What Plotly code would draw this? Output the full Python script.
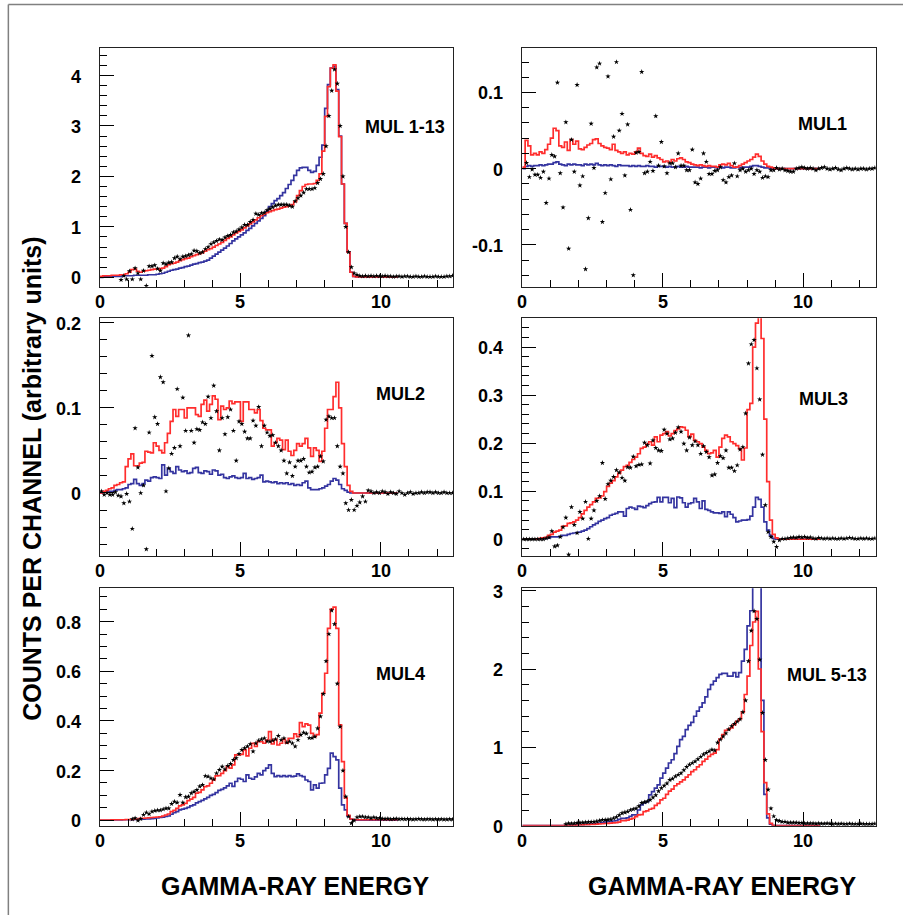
import numpy as np
import plotly.graph_objects as go

# ---------------- data (bin width 0.1 MeV) ----------------
BIN_W = 0.1

X_TICKS = [0, 5, 10]
X_TEXT = ["0", "5", "10"]
PANEL_NAMES = ["MUL 1-13", "MUL1", "MUL2", "MUL3", "MUL4", "MUL 5-13"]

# MUL 1-13
P1_RED = [0.02,0.03,0.03,0.03,0.04,0.04,0.04,0.05,0.05,
          0.07,0.10,0.15,0.16,0.12,0.10,0.12,0.13,0.14,0.15,0.16,
          0.16,0.17,0.18,0.21,0.25,0.27,0.28,0.30,0.33,0.35,
          0.37,0.38,0.41,0.43,0.45,0.47,0.49,0.52,0.55,0.57,
          0.60,0.63,0.66,0.69,0.73,0.77,0.80,0.84,0.88,0.91,
          0.94,0.98,1.02,1.06,1.10,1.14,1.18,1.22,1.25,1.28,
          1.30,1.32,1.34,1.35,1.37,1.39,1.40,1.42,1.44,1.50,
          1.62,1.72,1.80,1.84,1.85,1.85,1.86,1.92,2.05,2.50,
          3.19,3.78,4.15,4.21,3.69,2.79,1.85,1.07,0.50,0.10,
          0.02,0.01,0.01,0.01,0.01,0.01,0.01,0.01,0.01,0.01,0.01,0.01,0.01,0.01,0.01,0.01]
P1_BLUE = [0.0,0.01,0.01,0.01,0.02,0.02,0.02,0.02,0.03,0.03,
           0.03,0.03,0.04,0.04,0.04,0.04,0.04,0.05,0.05,0.05,
           0.06,0.07,0.08,0.10,0.12,0.14,0.15,0.16,0.18,0.19,
           0.21,0.22,0.24,0.26,0.27,0.29,0.30,0.32,0.34,0.38,
           0.42,0.46,0.50,0.54,0.58,0.62,0.67,0.72,0.76,0.80,
           0.84,0.88,0.93,0.97,1.02,1.07,1.12,1.17,1.22,1.30,
           1.40,1.46,1.52,1.56,1.62,1.68,1.76,1.84,1.92,2.02,
           2.12,2.17,2.18,2.18,2.12,2.08,2.10,2.22,2.38,2.62,
           3.35,3.82,4.15,4.18,3.72,2.80,1.85,1.07,0.50,0.10,
           0.02,0.01,0.01,0.01,0.01,0.01,0.01,0.01,0.01,0.01,0.01,0.01,0.01,0.01,0.01,0.01]
P1_DOTS = [None,None,None,None,None,None,None,
           -0.05,0.03,-0.04,0.12,-0.04,0.18,0.08,-0.04,0.13,-0.17,
           0.22,0.22,0.24,0.17,0.13,0.28,0.26,0.29,0.30,0.38,
           0.41,0.36,0.41,0.42,0.44,0.46,0.53,0.52,0.48,0.50,
           0.56,0.60,0.66,0.69,0.72,0.75,0.74,0.79,0.82,0.84,
           0.89,0.91,0.95,0.99,1.04,1.04,1.10,1.14,1.26,1.24,
           1.27,1.28,1.33,1.36,1.39,1.42,1.44,1.44,1.44,1.44,
           1.42,1.40,1.51,1.57,1.62,1.68,1.75,1.75,1.75,1.77,
           1.87,1.95,2.05,2.60,3.20,3.70,4.12,3.84,3.00,2.00,
           1.00,0.50,0.20,0.08,0.05,
           0.03,0.02,0.03,0.02,0.03,0.02,0.03,0.02,0.02,0.03,0.02,0.02,0.01,0.02,0.02,0.01,0.02,
           0.02,0.01,0.01,0.02,0.01,0.01,0.02,0.01,0.01,0.01,0.02,0.01,0.01,0.01,0.02,0.02,0.03]

# MUL1
P2_RED = [0.002,0.037,0.030,0.018,0.020,0.018,0.022,0.020,0.025,0.032,
          0.040,0.053,0.050,0.030,0.028,0.035,0.024,0.038,0.032,0.036,
          0.026,0.025,0.028,0.031,0.033,0.038,0.039,0.033,0.030,0.028,
          0.027,0.025,0.032,0.024,0.022,0.020,0.022,0.018,0.020,0.019,
          0.022,0.027,0.020,0.017,0.016,0.019,0.015,0.017,0.014,0.012,
          0.009,0.010,0.008,0.012,0.010,0.013,0.014,0.012,0.009,0.008,
          0.006,0.005,0.004,0.005,0.004,0.003,0.004,0.003,0.003,0.002,
          0.005,0.006,0.005,0.007,0.004,0.002,0.002,0.004,0.006,0.008,
          0.010,0.012,0.015,0.019,0.016,0.010,0.006,0.003,0.002,0.001,
          0,0,0,0,0,0,0,0,0,0,0,0,0,0,0,0]
P2_BLUE = [0.0,0.003,0.004,0.003,0.004,0.004,0.005,0.004,0.005,0.006,
           0.006,0.008,0.009,0.006,0.005,0.004,0.006,0.005,0.006,0.005,
           0.005,0.004,0.006,0.005,0.006,0.005,0.007,0.005,0.004,0.005,
           0.004,0.005,0.004,0.003,0.005,0.004,0.004,0.004,0.003,0.004,
           0.003,0.004,0.003,0.003,0.004,0.003,0.003,0.002,0.003,0.003,
           0.003,0.002,0.003,0.002,0.002,0.003,0.002,0.002,0.003,0.002,
           0.002,0.002,0.002,0.001,0.002,0.002,0.001,0.002,0.002,0.001,
           0.002,0.001,0.002,0.002,0.001,0.001,0.002,0.001,0.002,0.002,
           0.002,0.003,0.004,0.004,0.003,0.002,0.001,0.001,0.0,0.0,
           0,0,0,0,0,0,0,0,0,0,0,0,0,0,0,0]
P2_DOTS = [None,
           0.0075,-0.011,-0.001,-0.008,-0.008,-0.012,-0.004,-0.045,-0.013,0.018,
           0.016,0.113,-0.006,-0.051,0.061,-0.105,0.038,-0.004,0.110,-0.022,
           -0.010,-0.132,-0.065,0.059,0.001,0.133,0.138,-0.070,-0.032,0.121,
           -0.014,0.042,0.140,0.050,0.072,-0.009,0.058,-0.054,-0.140,0.021,
           0.022,0.127,-0.006,-0.004,0.009,-0.003,0.069,0.004,0.035,0.003,
           -0.006,0.007,0.007,0.002,0.020,0.004,0.004,-0.002,-0.002,0.025,
           -0.018,-0.020,-0.013,0.020,0.009,-0.007,-0.007,-0.003,-0.002,0.002,
           -0.015,-0.018,-0.011,-0.009,0.007,-0.010,-0.002,0.000,-0.004,-0.002,
           0.000,-0.007,-0.002,-0.004,-0.012,-0.010,-0.011,-0.002,-0.002,
           0.001,-0.001,0.0,-0.002,-0.003,-0.004,-0.004,0.0,0.001,0.002,0.001,0.0,0.001,0.0,
           -0.002,0.0,0.001,0.002,0.0,-0.001,0.0,0.001,-0.001,-0.002,0.0,0.001,0.0,-0.001,
           0.0,-0.001,0.0,0.0,-0.001,0.0,0.0,0.001]

# MUL2
P3_RED = [0.0,0.002,0.003,0.005,0.006,0.009,0.010,0.012,0.013,0.031,
          0.040,0.046,0.032,0.032,0.035,0.036,0.049,0.048,0.047,0.059,
          0.055,0.050,0.047,0.059,0.070,0.084,0.098,0.090,0.098,0.098,
          0.088,0.100,0.100,0.100,0.092,0.090,0.104,0.109,0.096,0.104,
          0.114,0.110,0.086,0.102,0.098,0.100,0.108,0.105,0.107,0.107,
          0.084,0.107,0.107,0.098,0.098,0.094,0.098,0.085,0.076,0.074,
          0.074,0.055,0.059,0.064,0.062,0.051,0.062,0.049,0.044,0.050,
          0.058,0.055,0.058,0.064,0.053,0.043,0.053,0.050,0.037,0.049,
          0.076,0.098,0.098,0.113,0.130,0.100,0.058,0.031,0.009,0.002,
          0,0,0,0,0,0,0,0,0,0,0,0,0,0,0,0]
P3_BLUE = [0.0,0.001,0.001,0.002,0.002,0.003,0.004,0.004,0.005,0.006,
           0.010,0.011,0.016,0.011,0.009,0.011,0.015,0.014,0.018,0.019,
           0.018,0.017,0.033,0.021,0.029,0.025,0.023,0.031,0.027,0.025,
           0.026,0.023,0.024,0.029,0.030,0.024,0.023,0.026,0.025,0.022,
           0.027,0.026,0.021,0.022,0.018,0.017,0.019,0.020,0.018,0.017,
           0.018,0.023,0.017,0.018,0.016,0.017,0.018,0.021,0.013,0.014,
           0.013,0.012,0.013,0.011,0.012,0.011,0.012,0.010,0.011,0.009,
           0.010,0.009,0.012,0.014,0.006,0.004,0.004,0.004,0.005,0.006,
           0.008,0.010,0.014,0.017,0.015,0.010,0.005,0.003,0.001,0.0,
           0,0,0,0,0,0,0,0,0,0,0,0,0,0,0,0]
P3_DOTS = [0.002,-0.002,0.000,-0.002,-0.002,0.001,-0.003,-0.004,-0.012,-0.001,
           -0.010,-0.042,0.076,0.030,0.000,0.009,-0.066,0.071,0.161,0.089,
           0.081,0.136,0.130,0.002,0.029,0.046,0.053,0.122,0.055,0.112,
           0.073,0.185,0.073,0.059,0.075,0.074,0.083,0.081,0.113,0.088,
           0.126,0.096,0.050,0.088,0.069,0.089,0.098,0.073,0.038,0.084,
           0.081,0.072,0.064,0.064,0.085,0.079,0.101,0.055,0.079,0.071,
           0.067,0.068,0.059,0.055,0.050,0.038,0.023,0.036,0.020,0.031,
           0.038,0.038,0.040,0.031,0.024,0.025,0.030,0.031,0.043,0.037,
           0.086,0.090,0.088,0.088,0.055,0.031,0.023,-0.012,-0.020,-0.008,
           -0.020,-0.015,-0.011,-0.004,-0.010,0.003,
           0.002,0.0,0.001,0.0,0.002,0.001,-0.001,0.001,0.0,-0.001,0.002,0.0,-0.002,0.0,0.001,
           -0.001,0.0,0.0,0.001,0.0,0.001,0.001,0.0,0.001,0.0,0.0,0.001,0.0,0.0,0.0]

# MUL3
P4_RED = [0.0,0.0,0.0,0.0,0.0,0.001,0.002,0.003,0.004,0.008,
          0.010,0.015,0.017,0.019,0.027,0.028,0.033,0.034,0.036,0.040,
          0.045,0.053,0.060,0.067,0.072,0.078,0.085,0.086,0.090,0.099,
          0.110,0.117,0.122,0.130,0.137,0.144,0.151,0.154,0.160,0.166,
          0.171,0.178,0.189,0.192,0.198,0.203,0.196,0.213,0.203,0.217,
          0.220,0.224,0.215,0.220,0.226,0.230,0.234,0.233,0.227,0.213,
          0.219,0.206,0.203,0.199,0.192,0.185,0.178,0.180,0.185,0.171,
          0.192,0.210,0.217,0.213,0.203,0.199,0.195,0.188,0.165,0.190,
          0.270,0.283,0.400,0.450,0.470,0.418,0.250,0.120,0.040,0.010,
          0.003,0,0,0,0,0,0,0,0,0,0,0,0,0,0,0]
P4_BLUE = [0,0,0,0,0,0,0.001,0.001,0.002,0.003,
           0.005,0.005,0.005,0.006,0.008,0.008,0.010,0.012,0.013,0.014,
           0.015,0.017,0.019,0.022,0.026,0.030,0.033,0.037,0.040,0.043,
           0.045,0.050,0.052,0.054,0.057,0.057,0.048,0.064,0.067,0.065,
           0.062,0.069,0.068,0.066,0.070,0.074,0.077,0.078,0.087,0.078,
           0.087,0.087,0.076,0.085,0.066,0.088,0.086,0.076,0.067,0.074,
           0.076,0.085,0.078,0.064,0.080,0.062,0.060,0.057,0.055,0.055,
           0.054,0.057,0.047,0.057,0.052,0.045,0.036,0.038,0.040,0.040,
           0.041,0.048,0.067,0.087,0.083,0.067,0.036,0.019,0.008,0.002,
           0,0,0,0,0,0,0,0,0,0,0,0,0,0,0,0]
P4_DOTS = [0.0,0.0,0.0,0.0,0.0,0.0,0.0,0.0,0.002,0.004,
           0.017,-0.015,-0.013,0.005,0.025,0.045,-0.032,0.067,0.030,0.013,
           0.057,0.043,0.078,0.001,0.043,0.060,0.080,0.090,0.159,0.084,
           0.115,0.122,0.130,0.144,0.139,0.128,0.122,0.150,0.149,0.172,
           0.152,0.155,0.156,0.201,0.196,0.158,0.206,0.190,0.185,0.184,
           0.228,0.220,0.208,0.210,0.222,0.233,0.224,0.199,0.185,0.212,
           0.196,0.204,0.196,0.178,0.194,0.182,0.171,0.133,0.135,0.159,
           0.173,0.169,0.185,0.149,0.149,0.142,0.154,0.187,0.192,0.262,
           0.366,0.406,0.415,0.356,0.291,0.176,0.071,0.015,0.005,-0.005,
           -0.016,-0.002,
           0.001,0.001,0.002,0.003,0.004,0.003,0.005,0.004,0.005,0.003,0.004,0.002,0.001,0.003,0.002,0.001,0.002,
           0.001,0.002,0.001,0.001,0.002,0.001,0.002,0.003,0.002,0.001,0.001,0.002,0.001,0.002,0.001,0.001,0.002]

# MUL4
P5_RED = [0.001,0.001,0.001,0.001,0.002,0.002,0.002,0.002,0.002,0.003,0.003,0.003,0.004,0.005,
          0.008,0.008,0.009,0.010,0.011,0.012,0.013,0.014,0.017,0.021,
          0.025,0.035,0.040,0.048,0.058,0.062,0.068,0.079,0.085,0.092,
          0.109,0.112,0.122,0.135,0.138,0.149,0.162,0.179,0.180,0.189,
          0.200,0.216,0.210,0.223,0.263,0.263,0.265,0.283,0.259,0.290,
          0.310,0.297,0.317,0.317,0.310,0.323,0.357,0.307,0.326,0.303,
          0.310,0.326,0.310,0.330,0.330,0.348,0.337,0.393,0.377,0.388,
          0.383,0.350,0.337,0.345,0.431,0.511,0.592,0.773,0.850,0.858,
          0.773,0.384,0.236,0.090,0.020,0.005,
          0.002,0.002,0.002,0.002,0.002,0.002,0.002,0.002,0.002,0.002,0.002,0.002,0.002,0.002,0.002,0.002]
P5_BLUE = [0.0,0.0,0.0,0.0,0.001,0.001,0.001,0.001,0.002,0.002,0.002,0.002,0.003,0.003,0.004,
           0.004,0.005,0.005,0.006,0.007,0.009,0.011,0.012,0.015,0.017,
           0.024,0.031,0.035,0.042,0.045,0.048,0.052,0.058,0.062,0.070,
           0.075,0.080,0.086,0.092,0.100,0.104,0.111,0.120,0.124,0.130,
           0.138,0.149,0.136,0.156,0.169,0.165,0.156,0.183,0.169,0.165,
           0.175,0.189,0.183,0.200,0.210,0.223,0.189,0.176,0.180,0.176,
           0.180,0.176,0.180,0.176,0.178,0.187,0.180,0.176,0.162,0.156,
           0.122,0.142,0.129,0.149,0.150,0.183,0.209,0.270,0.256,0.243,
           0.129,0.062,0.042,0.015,0.004,
           0,0,0,0,0,0,0,0,0,0,0,0,0,0,0,0]
P5_DOTS = [None,None,None,None,None,None,None,None,None,None,None,0.004,
           0.008,-0.001,0.005,0.022,0.031,0.025,0.035,0.038,0.040,0.040,
           0.044,0.048,0.048,0.066,0.075,0.071,0.102,0.071,0.093,0.095,
           0.109,0.115,0.122,0.136,0.142,0.178,0.176,0.169,0.165,0.189,
           0.203,0.216,0.205,0.219,0.227,0.243,0.250,0.267,0.283,0.290,
           0.297,0.307,0.277,0.310,0.321,0.326,0.330,0.318,0.317,0.321,
           0.326,0.340,0.323,0.330,0.313,0.317,0.310,0.297,0.323,0.344,
           0.353,0.349,0.331,0.331,0.337,0.370,0.418,0.509,0.641,0.750,
           0.845,0.790,0.550,0.377,0.200,0.095,0.015,-0.012,-0.001,0.012,
           0.015,0.015,0.012,0.012,0.008,0.012,0.008,0.008,
           0.006,0.005,0.006,0.004,0.005,0.006,0.004,0.005,0.004,0.005,0.004,0.003,0.004,
           0.005,0.004,0.003,0.004,0.004,0.003,0.004,0.003,0.004,0.003,0.003,0.004,0.003]

# MUL 5-13
P6_RED = [0,0,0,0,0,0,0,0,0,0,0,0,0,0,0,
          0.003,0.004,0.005,0.006,0.007,
          0.009,0.010,0.012,0.014,0.016,0.018,0.020,0.022,0.025,0.028,
          0.030,0.032,0.035,0.040,0.045,0.064,0.064,0.070,0.085,0.094,
          0.115,0.137,0.140,0.180,0.190,0.210,0.222,0.260,0.286,0.330,
          0.350,0.400,0.440,0.466,0.510,0.534,0.560,0.585,0.620,0.650,
          0.690,0.714,0.750,0.778,0.820,0.850,0.885,0.910,0.927,0.970,
          1.107,1.162,1.218,1.230,1.248,1.290,1.333,1.363,1.450,1.675,
          1.910,2.300,2.600,2.735,2.000,1.200,0.550,0.150,0.030,0.005,
          0,0,0,0,0,0,0,0,0,0,0,0,0,0,0,0]
P6_BLUE = [0,0,0,0,0,0,0,0,0,0,0,0,0,0,0,
           0.003,0.005,0.007,0.009,0.011,
           0.012,0.014,0.016,0.018,0.020,0.024,0.028,0.033,0.040,0.045,
           0.050,0.055,0.060,0.065,0.080,0.094,0.094,0.100,0.120,0.137,
           0.137,0.200,0.265,0.290,0.308,0.393,0.436,0.480,0.521,0.607,
           0.671,0.735,0.800,0.842,0.919,1.013,1.098,1.141,1.226,1.280,
           1.320,1.397,1.462,1.513,1.568,1.645,1.739,1.800,1.846,1.889,
           1.932,1.944,1.944,1.910,1.910,1.953,1.900,1.953,2.100,2.252,
           2.551,2.744,3.300,3.500,3.400,1.600,0.400,0.100,0.020,0.0,
           0,0,0,0,0,0,0,0,0,0,0,0,0,0,0,0]
P6_DOTS = [None,None,None,None,None,None,None,None,None,None,None,None,None,None,None,
           0.020,0.030,0.028,0.030,0.035,0.038,0.040,0.043,0.045,0.048,
           0.050,0.055,0.065,0.073,0.075,0.078,0.080,0.095,0.110,0.135,
           0.160,0.170,0.180,0.200,0.210,0.220,0.250,0.290,0.300,0.310,
           0.330,0.360,0.390,0.440,0.480,0.510,0.540,0.585,0.600,0.630,
           0.650,0.670,0.710,0.750,0.780,0.800,0.820,0.850,0.880,0.910,
           0.930,0.950,0.970,0.960,1.060,1.100,1.140,1.180,1.230,1.270,
           1.300,1.330,1.360,1.450,1.600,2.100,2.490,2.740,2.640,2.120,
           1.440,0.840,0.460,0.220,0.120,0.070,0.060,
           0.050,0.050,0.040,0.040,0.040,0.040,0.035,0.035,
           0.030,0.030,0.030,0.030,0.025,0.030,0.025,0.025,0.030,0.025,0.020,0.025,0.020,
           0.025,0.020,0.020,0.025,0.020,0.020,0.020,0.025,0.020,0.020,0.020,0.020,0.025]

# y-axis ticks (values and labels) per panel
Y_TICKS = [[0, 1, 2, 3, 4], [-0.1, 0, 0.1], [0, 0.1, 0.2],
           [0, 0.1, 0.2, 0.3, 0.4], [0, 0.2, 0.4, 0.6, 0.8], [0, 1, 2, 3]]
Y_TEXT = [["0", "1", "2", "3", "4"], ["-0.1", "0", "0.1"], ["0", "0.1", "0.2"],
          ["0", "0.1", "0.2", "0.3", "0.4"], ["0", "0.2", "0.4", "0.6", "0.8"], ["0", "1", "2", "3"]]

REDS = [P1_RED, P2_RED, P3_RED, P4_RED, P5_RED, P6_RED]
BLUES = [P1_BLUE, P2_BLUE, P3_BLUE, P4_BLUE, P5_BLUE, P6_BLUE]
DOTS = [P1_DOTS, P2_DOTS, P3_DOTS, P4_DOTS, P5_DOTS, P6_DOTS]

# ---------------- layout / style ----------------
FONT = "Liberation Sans, Arial, Helvetica, sans-serif"
RED = "#ff2d2d"
BLUE = "#3434a0"
Y_RANGES = [[-0.186, 4.54], [-0.155, 0.158], [-0.074, 0.205],
            [-0.035, 0.46], [-0.022, 0.934], [0.0, 3.03]]
Y_MINOR = [0.2, 0.02, 0.02, 0.02, 0.05, 0.2]
X_RANGE = [0, 12.58]
X_DOM = [[0.1100, 0.4987], [0.5746, 0.9634]]
Y_DOM = [[0.6867, 0.9472], [0.3923, 0.6521], [0.0976, 0.3570]]
LABEL_POS = [(0.862, 0.670), (0.848, 0.682), (0.851, 0.680),
             (0.851, 0.660), (0.851, 0.640), (0.861, 0.635)]
TICK_FONT = dict(family=FONT, size=18, color="black", weight="bold")


def steps(vals):
    v = np.asarray(vals, dtype=float)
    x = BIN_W * np.arange(len(v) + 1)
    y = np.append(v, v[-1])
    return x, y


def centers(vals):
    return BIN_W * (np.arange(len(vals)) + 0.5)


fig = go.Figure()
layout = {}
annotations = []
for p in range(6):
    n = "" if p == 0 else str(p + 1)
    xa, ya = "x" + n, "y" + n
    col, row = p % 2, p // 2

    bx, by = steps(BLUES[p])
    fig.add_trace(go.Scatter(x=bx, y=by, mode="lines", line=dict(color=BLUE, width=1.7, shape="hv"),
                             xaxis=xa, yaxis=ya, showlegend=False, hoverinfo="skip"))
    rx, ry = steps(REDS[p])
    fig.add_trace(go.Scatter(x=rx, y=ry, mode="lines", line=dict(color=RED, width=1.7, shape="hv"),
                             xaxis=xa, yaxis=ya, showlegend=False, hoverinfo="skip"))
    fig.add_trace(go.Scatter(x=centers(DOTS[p]), y=DOTS[p], mode="markers",
                             marker=dict(symbol="star", size=4, color="black"),
                             xaxis=xa, yaxis=ya, showlegend=False, hoverinfo="skip"))

    ymin, ymax = Y_RANGES[p]
    layout["xaxis" + n] = dict(
        domain=X_DOM[col], anchor=ya, range=X_RANGE, tickmode="array",
        tickvals=X_TICKS, ticks="inside", ticklen=14, tickwidth=1, tickcolor="black",
        showticklabels=False,
        minor=dict(tickmode="array", tickvals=list(np.arange(0, 13, 1.0)),
                   ticks="inside", ticklen=7, tickcolor="black", tickwidth=1),
        showline=True, linecolor="#222", linewidth=1, mirror=True,
        showgrid=False, zeroline=False, fixedrange=True)
    mstep = Y_MINOR[p]
    mvals = list(np.round(np.arange(np.ceil(ymin / mstep) * mstep, ymax, mstep), 4))
    layout["yaxis" + n] = dict(
        domain=Y_DOM[row], anchor=xa, range=Y_RANGES[p], tickmode="array",
        tickvals=Y_TICKS[p], ticks="inside", ticklen=14, tickwidth=1, tickcolor="black",
        showticklabels=False,
        minor=dict(tickmode="array", tickvals=mvals, ticks="inside", ticklen=7,
                   tickcolor="black", tickwidth=1),
        showline=True, linecolor="#222", linewidth=1, mirror=True,
        showgrid=False, zeroline=False, fixedrange=True)

    # tick labels
    for v, t in zip(Y_TICKS[p], Y_TEXT[p]):
        annotations.append(dict(text=t, x=0, xref=xa + " domain", xanchor="right", xshift=-17,
                                y=v, yref=ya, yanchor="middle", yshift=-1,
                                showarrow=False, font=TICK_FONT))
    for v, t in zip(X_TICKS, X_TEXT):
        annotations.append(dict(text=t, x=v, xref=xa, xanchor="center",
                                y=0, yref=ya + " domain", yanchor="top", yshift=-3,
                                showarrow=False, font=TICK_FONT))

    lx, ly = LABEL_POS[p]
    annotations.append(dict(text=PANEL_NAMES[p], x=lx, y=ly, xref=xa + " domain", yref=ya + " domain",
                            showarrow=False, xanchor="center", yanchor="middle",
                            font=dict(family=FONT, size=18, color="black", weight="bold")))

for xc in (0.3246, 0.794):
    annotations.append(dict(text="GAMMA-RAY ENERGY", x=xc, y=0.0315, xref="paper", yref="paper",
                            showarrow=False, xanchor="center", yanchor="middle",
                            font=dict(family=FONT, size=25, color="black", weight="bold")))
annotations.append(dict(text="COUNTS PER CHANNEL (arbitrary units)", x=0.035, y=0.4765,
                        xref="paper", yref="paper", showarrow=False, textangle=-90,
                        xanchor="center", yanchor="middle",
                        font=dict(family=FONT, size=25, color="black", weight="bold")))

shapes = [
    dict(type="line", xref="paper", yref="paper", x0=0.0092, x1=0.9934, y0=0.9951, y1=0.9951,
         line=dict(color="#808080", width=1.5)),
    dict(type="line", xref="paper", yref="paper", x0=0.0092, x1=0.0092, y0=0.0, y1=0.9951,
         line=dict(color="#808080", width=1.5)),
]

fig.update_layout(width=909, height=915, margin=dict(l=0, r=0, t=0, b=0),
                  paper_bgcolor="white", plot_bgcolor="white",
                  annotations=annotations, shapes=shapes, **layout)
fig.write_html("out.html")
